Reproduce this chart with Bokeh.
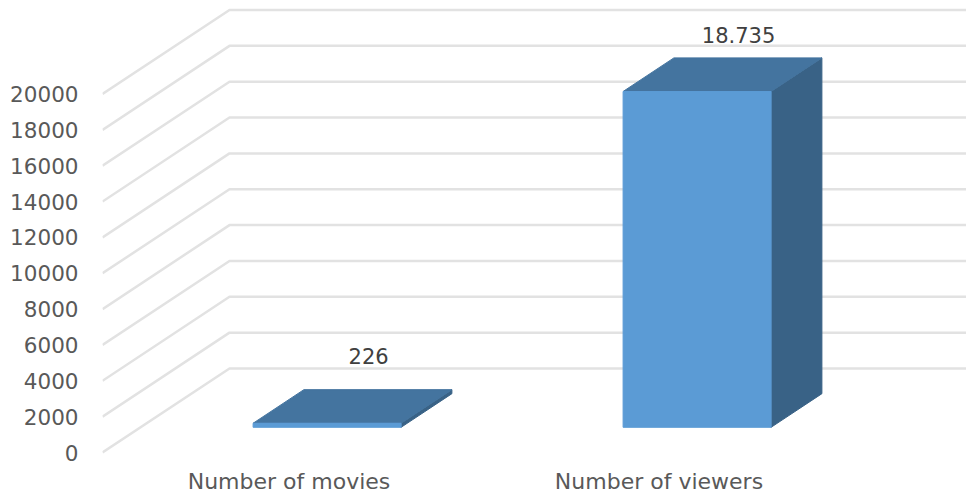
from bokeh.plotting import figure
from bokeh.models import Range1d, FixedTicker
from bokeh.core.properties import value as val
from bokeh.embed import file_html
from bokeh.resources import INLINE

categories = ["Number of movies", "Number of viewers"]
values = [226, 18735]
data_labels = ["226", "18.735"]
y_ticks = [0, 2000, 4000, 6000, 8000, 10000, 12000, 14000, 16000, 18000, 20000]

# layout: page pixels
FONT = "DejaVu Sans"
W, H = 966, 500
FRAME_L, FRAME_T, FRAME_B = 102, 0, 458
PX_X = 370.0            # pixels per category
PX_Y = 35.85 / 2000.0   # pixels per value unit
CAT0_PX, ZERO_PX = 288.5, 452.0
DEPTH_DX, DEPTH_DY = 127 / PX_X, 84 / PX_Y   # full floor depth, in data units
BAR_W = 148 / PX_X
D0, D1 = 0.30, 0.70     # bar front/back position in the depth

p = figure(width=W, height=H, output_backend="svg", toolbar_location=None,
           min_border_left=FRAME_L, min_border_right=0, min_border_top=FRAME_T,
           min_border_bottom=H - FRAME_B,
           x_range=Range1d((FRAME_L - CAT0_PX) / PX_X, (W - CAT0_PX) / PX_X),
           y_range=Range1d((ZERO_PX - FRAME_B) / PX_Y, (ZERO_PX - FRAME_T) / PX_Y))
p.outline_line_color = None
p.background_fill_color = "white"
p.grid.visible = False

def proj(x, v, d):
    return x + d * DEPTH_DX, v + d * DEPTH_DY

# gridlines: floor/wall fold
xl, xr = p.x_range.start, p.x_range.end
gx, gy = [], []
for t in y_ticks:
    bx, by = proj(xl, t, 1)
    gx.append([xl, bx, xr])
    gy.append([t, by, by])
p.multi_line(gx, gy, line_color="#e2e2e2", line_width=2.5)

# 3D bars
FRONT, TOP, SIDE = "#5b9bd5", "#44749f", "#396286"
for i, v in enumerate(values):
    a, b = i - BAR_W / 2, i + BAR_W / 2
    fl = proj(a, 0, D0); fr = proj(b, 0, D0)
    tl = proj(a, v, D0); tr = proj(b, v, D0)
    btl = proj(a, v, D1); btr = proj(b, v, D1)
    bbr = proj(b, 0, D1)
    quad = lambda pts, c: p.patch([q[0] for q in pts], [q[1] for q in pts],
                                  fill_color=c, line_color=c, line_width=1)
    quad([fr, tr, btr, bbr], SIDE)
    quad([tl, tr, btr, btl], TOP)
    quad([fl, fr, tr, tl], FRONT)

# data labels
label_dx = [41.5, 41.5]
label_dy = [67, 56]
lpos = [proj(i, v, D0) for i, v in enumerate(values)]
p.text([q[0] for q in lpos], [q[1] for q in lpos], text=data_labels,
       x_offset=label_dx, y_offset=[-d for d in label_dy],
       text_align="center", text_baseline="middle", text_color="#404040",
       text_font=val(FONT), text_font_size="21px")

# axes
ya = p.yaxis[0]
ya.ticker = FixedTicker(ticks=y_ticks)
ya.axis_line_color = None
ya.major_tick_line_color = None
ya.minor_tick_line_color = None
ya.major_tick_out = 0
ya.major_tick_in = 0
ya.minor_tick_out = 0
ya.major_label_standoff = 24
ya.major_label_text_font = FONT
ya.major_label_text_font_size = "21.5px"
ya.major_label_text_color = "#595959"
ya.formatter.use_scientific = False

xa = p.xaxis[0]
xa.ticker = FixedTicker(ticks=list(range(len(categories))))
xa.major_label_overrides = {i: c for i, c in enumerate(categories)}
xa.axis_line_color = None
xa.major_tick_line_color = None
xa.minor_tick_line_color = None
xa.major_tick_out = 0
xa.major_tick_in = 0
xa.minor_tick_out = 0
xa.major_label_standoff = 10
xa.major_label_text_font = FONT
xa.major_label_text_font_size = "22px"
xa.major_label_text_color = "#595959"

open("out.html", "w").write(file_html(p, INLINE))
